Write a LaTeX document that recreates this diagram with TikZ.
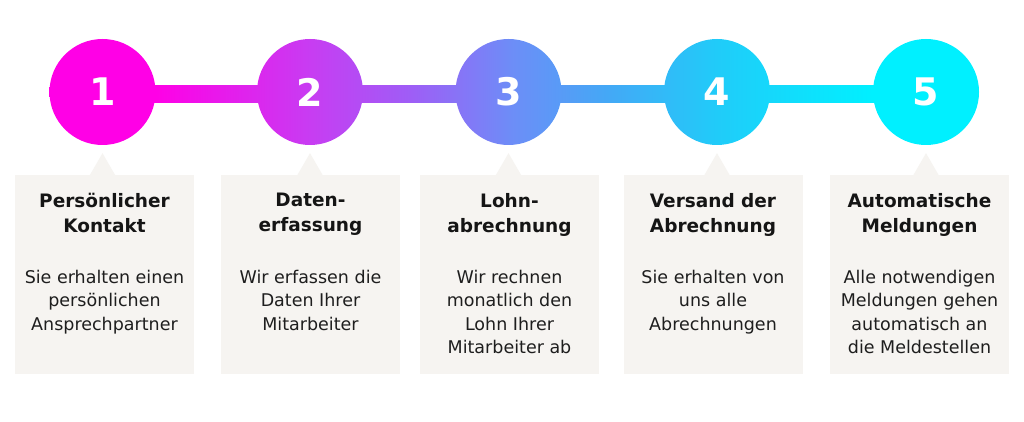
\documentclass[tikz,border=0pt]{standalone}
\usepackage{fontspec}
\setmainfont{DejaVu Sans}
\usepackage{xcolor}
\usetikzlibrary{positioning}
\usetikzlibrary{calc}

\definecolor{stepmag}{HTML}{FF00E6}
\definecolor{steppink}{HTML}{C83CF2}
\definecolor{stepviolet}{HTML}{9E5EF6}
\definecolor{stepmid}{HTML}{6C8EF7}
\definecolor{stepblue}{HTML}{44A8F6}
\definecolor{stepsky}{HTML}{20CCF9}
\definecolor{stepcyan}{HTML}{00F0FF}
\definecolor{boxgray}{HTML}{F6F4F1}
\definecolor{titlegray}{HTML}{151515}
\definecolor{textgray}{HTML}{1E1E1E}

\pgfdeclarehorizontalshading{stepline}{100bp}{color(0bp)=(stepmag); color(30.7bp)=(stepmag); color(39bp)=(steppink); color(44.5bp)=(stepviolet); color(50bp)=(stepmid); color(55bp)=(stepblue); color(61bp)=(stepsky); color(69.3bp)=(stepcyan); color(100bp)=(stepcyan)}

\tikzset{
  stepnum/.style={circle, minimum size=106pt, inner sep=0pt, text=white, font=\fontsize{38}{38}\selectfont\bfseries},
  stepbox/.style={rectangle, fill=boxgray, minimum width=179pt, minimum height=199pt, inner sep=0pt, anchor=north},
  steptitle/.style={align=center, text=titlegray, font=\fontsize{18.5}{25}\selectfont\bfseries, inner sep=0pt, anchor=north},
  steptext/.style={align=center, text=textgray, font=\fontsize{17.5}{23.5}\selectfont, inner sep=0pt, anchor=north}
}

\begin{document}
\begin{tikzpicture}[x=1pt,y=-1pt]

 \fill[white] (0,0) rectangle (1024,422);
 \useasboundingbox (0,0) rectangle (1024,422);

 \foreach \i/\x in { 1/102.5, 2/310, 3/508.5, 4/717, 5/926 }
   \coordinate (p\i) at (\x,92);

 % bar
 \begin{scope}
   \clip ($(p1)+(0,-6)$) rectangle ($(p5)+(0,10.5)$);
   \shade[shading=stepline] (49,37) rectangle (979,147);
 \end{scope}

 % circles
 \begin{scope}
   \clip (p1) circle (53pt) (p2) circle (53pt) (p3) circle (53pt) (p4) circle (53pt) (p5) circle (53pt);
   \shade[shading=stepline] (49,37) rectangle (979,147);
 \end{scope}

 \foreach \i in {1,...,5}
   \node[stepnum] (c\i) at (p\i) {\i};

 % boxes
 \foreach \i/\x in { 1/104.5, 2/310.5, 3/509.5, 4/713, 5/919.5 } {
   \node[stepbox] (b\i) at (\x,175) {};
   \fill[boxgray] ($(c\i.south)+(-13,30.5)$) -- ($(c\i.south)+(0,8)$) -- ($(c\i.south)+(13,30.5)$) -- cycle;
 }

 % texts
 \node[steptitle] (t1) at ($(b1.north)+(0,18)$) {Persönlicher\\Kontakt};
 \node[steptext] (d1) at ($(b1.north)+(0,95)$) {Sie erhalten einen\\persönlichen\\Ansprechpartner};

 \node[steptitle] (t2) at ($(b2.north)+(0,18)$) {Daten-\\erfassung};
 \node[steptext] (d2) at ($(b2.north)+(0,95)$) {Wir erfassen die\\Daten Ihrer\\Mitarbeiter};

 \node[steptitle] (t3) at ($(b3.north)+(0,18)$) {Lohn-\\abrechnung};
 \node[steptext] (d3) at ($(b3.north)+(0,95)$) {Wir rechnen\\monatlich den\\Lohn Ihrer\\Mitarbeiter ab};

 \node[steptitle] (t4) at ($(b4.north)+(0,18)$) {Versand der\\Abrechnung};
 \node[steptext] (d4) at ($(b4.north)+(0,95)$) {Sie erhalten von\\uns alle\\Abrechnungen};

 \node[steptitle] (t5) at ($(b5.north)+(0,18)$) {Automatische\\Meldungen};
 \node[steptext] (d5) at ($(b5.north)+(0,95)$) {Alle notwendigen\\Meldungen gehen\\automatisch an\\die Meldestellen};

\end{tikzpicture}
\end{document}
